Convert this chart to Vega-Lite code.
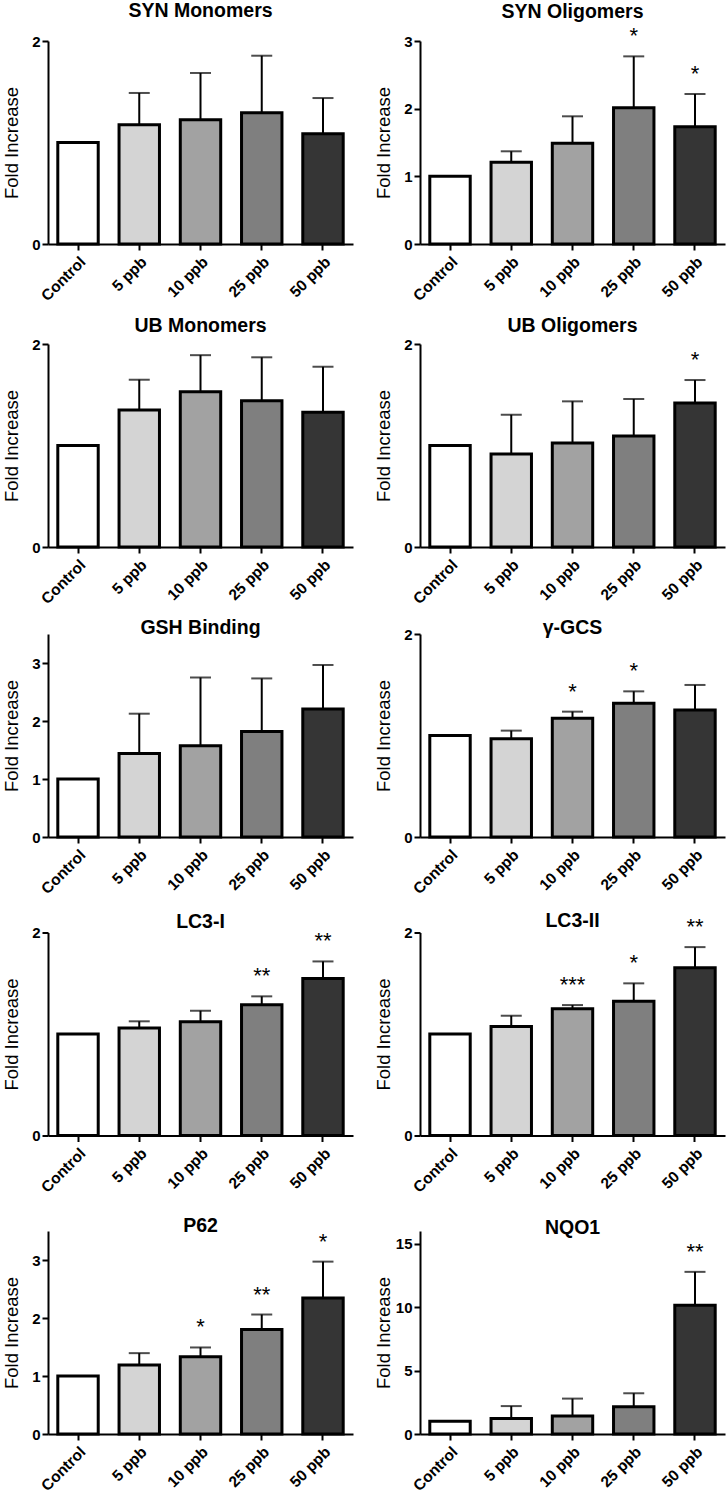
{
  "$schema": "https://vega.github.io/schema/vega-lite/v6.json",
  "background": "white",
  "padding": {"left": 2, "top": 0, "right": 2, "bottom": 2},
  "datasets": {
    "main": [
      {"panel": "SYN Monomers", "dose": "Control", "mean": 1.0, "upper": null, "sig": ""},
      {"panel": "SYN Monomers", "dose": "5 ppb", "mean": 1.175, "upper": 1.488, "sig": ""},
      {"panel": "SYN Monomers", "dose": "10 ppb", "mean": 1.225, "upper": 1.685, "sig": ""},
      {"panel": "SYN Monomers", "dose": "25 ppb", "mean": 1.294, "upper": 1.855, "sig": ""},
      {"panel": "SYN Monomers", "dose": "50 ppb", "mean": 1.087, "upper": 1.438, "sig": ""},
      {"panel": "SYN Oligomers", "dose": "Control", "mean": 1.0, "upper": null, "sig": ""},
      {"panel": "SYN Oligomers", "dose": "5 ppb", "mean": 1.207, "upper": 1.37, "sig": ""},
      {"panel": "SYN Oligomers", "dose": "10 ppb", "mean": 1.488, "upper": 1.887, "sig": ""},
      {"panel": "SYN Oligomers", "dose": "25 ppb", "mean": 2.015, "upper": 2.773, "sig": "*"},
      {"panel": "SYN Oligomers", "dose": "50 ppb", "mean": 1.734, "upper": 2.217, "sig": "*"},
      {"panel": "UB Monomers", "dose": "Control", "mean": 1.0, "upper": null, "sig": ""},
      {"panel": "UB Monomers", "dose": "5 ppb", "mean": 1.35, "upper": 1.648, "sig": ""},
      {"panel": "UB Monomers", "dose": "10 ppb", "mean": 1.53, "upper": 1.89, "sig": ""},
      {"panel": "UB Monomers", "dose": "25 ppb", "mean": 1.441, "upper": 1.869, "sig": ""},
      {"panel": "UB Monomers", "dose": "50 ppb", "mean": 1.327, "upper": 1.776, "sig": ""},
      {"panel": "UB Oligomers", "dose": "Control", "mean": 1.0, "upper": null, "sig": ""},
      {"panel": "UB Oligomers", "dose": "5 ppb", "mean": 0.916, "upper": 1.303, "sig": ""},
      {"panel": "UB Oligomers", "dose": "10 ppb", "mean": 1.025, "upper": 1.435, "sig": ""},
      {"panel": "UB Oligomers", "dose": "25 ppb", "mean": 1.094, "upper": 1.458, "sig": ""},
      {"panel": "UB Oligomers", "dose": "50 ppb", "mean": 1.419, "upper": 1.645, "sig": "*"},
      {"panel": "GSH Binding", "dose": "Control", "mean": 1.0, "upper": null, "sig": ""},
      {"panel": "GSH Binding", "dose": "5 ppb", "mean": 1.44, "upper": 2.126, "sig": ""},
      {"panel": "GSH Binding", "dose": "10 ppb", "mean": 1.574, "upper": 2.75, "sig": ""},
      {"panel": "GSH Binding", "dose": "25 ppb", "mean": 1.821, "upper": 2.734, "sig": ""},
      {"panel": "GSH Binding", "dose": "50 ppb", "mean": 2.207, "upper": 2.966, "sig": ""},
      {"panel": "γ-GCS", "dose": "Control", "mean": 1.0, "upper": null, "sig": ""},
      {"panel": "γ-GCS", "dose": "5 ppb", "mean": 0.967, "upper": 1.048, "sig": ""},
      {"panel": "γ-GCS", "dose": "10 ppb", "mean": 1.17, "upper": 1.235, "sig": "*"},
      {"panel": "γ-GCS", "dose": "25 ppb", "mean": 1.317, "upper": 1.435, "sig": "*"},
      {"panel": "γ-GCS", "dose": "50 ppb", "mean": 1.252, "upper": 1.498, "sig": ""},
      {"panel": "LC3-I", "dose": "Control", "mean": 1.0, "upper": null, "sig": ""},
      {"panel": "LC3-I", "dose": "5 ppb", "mean": 1.059, "upper": 1.125, "sig": ""},
      {"panel": "LC3-I", "dose": "10 ppb", "mean": 1.121, "upper": 1.229, "sig": ""},
      {"panel": "LC3-I", "dose": "25 ppb", "mean": 1.288, "upper": 1.371, "sig": "**"},
      {"panel": "LC3-I", "dose": "50 ppb", "mean": 1.548, "upper": 1.715, "sig": "**"},
      {"panel": "LC3-II", "dose": "Control", "mean": 1.0, "upper": null, "sig": ""},
      {"panel": "LC3-II", "dose": "5 ppb", "mean": 1.075, "upper": 1.18, "sig": ""},
      {"panel": "LC3-II", "dose": "10 ppb", "mean": 1.249, "upper": 1.285, "sig": "***"},
      {"panel": "LC3-II", "dose": "25 ppb", "mean": 1.322, "upper": 1.499, "sig": "*"},
      {"panel": "LC3-II", "dose": "50 ppb", "mean": 1.652, "upper": 1.856, "sig": "**"},
      {"panel": "P62", "dose": "Control", "mean": 1.0, "upper": null, "sig": ""},
      {"panel": "P62", "dose": "5 ppb", "mean": 1.188, "upper": 1.394, "sig": ""},
      {"panel": "P62", "dose": "10 ppb", "mean": 1.33, "upper": 1.492, "sig": "*"},
      {"panel": "P62", "dose": "25 ppb", "mean": 1.802, "upper": 2.06, "sig": "**"},
      {"panel": "P62", "dose": "50 ppb", "mean": 2.346, "upper": 2.972, "sig": "*"},
      {"panel": "NQO1", "dose": "Control", "mean": 1.0, "upper": null, "sig": ""},
      {"panel": "NQO1", "dose": "5 ppb", "mean": 1.22, "upper": 2.2, "sig": ""},
      {"panel": "NQO1", "dose": "10 ppb", "mean": 1.42, "upper": 2.79, "sig": ""},
      {"panel": "NQO1", "dose": "25 ppb", "mean": 2.15, "upper": 3.21, "sig": ""},
      {"panel": "NQO1", "dose": "50 ppb", "mean": 10.15, "upper": 12.78, "sig": "**"}
    ]
  },
  "data": {"name": "main"},
  "spacing": 10,
  "vconcat": [
    {
      "columns": 2,
      "bounds": "flush",
      "spacing": {"row": 100, "column": 67},
      "concat": [
        {
          "title": {"text": "SYN Monomers", "offset": 12.7},
          "width": 305, "height": 203,
          "transform": [{"filter": "datum.panel === 'SYN Monomers'"}],
          "encoding": {"x": {"field": "dose", "type": "nominal", "sort": ["Control", "5 ppb", "10 ppb", "25 ppb", "50 ppb"], "title": null, "scale": {"paddingInner": 0.34, "paddingOuter": 0.16}}},
          "layer": [
            {"mark": {"type": "rule"}, "encoding": {"y": {"field": "mean", "type": "quantitative", "scale": {"domain": [0, 2]}, "axis": {"values": [0, 1, 2], "format": "d", "title": "Fold Increase"}}, "y2": {"field": "upper"}}},
            {"mark": {"type": "tick", "size": 21}, "encoding": {"y": {"field": "upper", "type": "quantitative"}}},
            {"mark": {"type": "bar"}, "encoding": {"y": {"field": "mean", "type": "quantitative"}, "fill": {"field": "dose", "type": "nominal", "scale": {"domain": ["Control", "5 ppb", "10 ppb", "25 ppb", "50 ppb"], "range": ["#ffffff", "#d4d4d4", "#a2a2a2", "#7f7f7f", "#353535"]}, "legend": null}}},
            {"transform": [{"filter": "datum.sig !== ''"}], "mark": {"type": "text"}, "encoding": {"y": {"field": "upper", "type": "quantitative"}, "text": {"field": "sig"}}}
          ]
        },
        {
          "title": {"text": "SYN Oligomers", "offset": 3.2},
          "width": 305, "height": 203,
          "transform": [{"filter": "datum.panel === 'SYN Oligomers'"}],
          "encoding": {"x": {"field": "dose", "type": "nominal", "sort": ["Control", "5 ppb", "10 ppb", "25 ppb", "50 ppb"], "title": null, "scale": {"paddingInner": 0.34, "paddingOuter": 0.16}}},
          "layer": [
            {"mark": {"type": "rule"}, "encoding": {"y": {"field": "mean", "type": "quantitative", "scale": {"domain": [0, 3]}, "axis": {"values": [0, 1, 2, 3], "format": "d", "title": "Fold Increase"}}, "y2": {"field": "upper"}}},
            {"mark": {"type": "tick", "size": 21}, "encoding": {"y": {"field": "upper", "type": "quantitative"}}},
            {"mark": {"type": "bar"}, "encoding": {"y": {"field": "mean", "type": "quantitative"}, "fill": {"field": "dose", "type": "nominal", "scale": {"domain": ["Control", "5 ppb", "10 ppb", "25 ppb", "50 ppb"], "range": ["#ffffff", "#d4d4d4", "#a2a2a2", "#7f7f7f", "#353535"]}, "legend": null}}},
            {"transform": [{"filter": "datum.sig !== ''"}], "mark": {"type": "text"}, "encoding": {"y": {"field": "upper", "type": "quantitative"}, "text": {"field": "sig"}}}
          ]
        },
        {
          "title": {"text": "UB Monomers", "offset": 0.1},
          "width": 305, "height": 203,
          "transform": [{"filter": "datum.panel === 'UB Monomers'"}],
          "encoding": {"x": {"field": "dose", "type": "nominal", "sort": ["Control", "5 ppb", "10 ppb", "25 ppb", "50 ppb"], "title": null, "scale": {"paddingInner": 0.34, "paddingOuter": 0.16}}},
          "layer": [
            {"mark": {"type": "rule"}, "encoding": {"y": {"field": "mean", "type": "quantitative", "scale": {"domain": [0, 2]}, "axis": {"values": [0, 1, 2], "format": "d", "title": "Fold Increase"}}, "y2": {"field": "upper"}}},
            {"mark": {"type": "tick", "size": 21}, "encoding": {"y": {"field": "upper", "type": "quantitative"}}},
            {"mark": {"type": "bar"}, "encoding": {"y": {"field": "mean", "type": "quantitative"}, "fill": {"field": "dose", "type": "nominal", "scale": {"domain": ["Control", "5 ppb", "10 ppb", "25 ppb", "50 ppb"], "range": ["#ffffff", "#d4d4d4", "#a2a2a2", "#7f7f7f", "#353535"]}, "legend": null}}},
            {"transform": [{"filter": "datum.sig !== ''"}], "mark": {"type": "text"}, "encoding": {"y": {"field": "upper", "type": "quantitative"}, "text": {"field": "sig"}}}
          ]
        },
        {
          "title": {"text": "UB Oligomers", "offset": 0.1},
          "width": 305, "height": 203,
          "transform": [{"filter": "datum.panel === 'UB Oligomers'"}],
          "encoding": {"x": {"field": "dose", "type": "nominal", "sort": ["Control", "5 ppb", "10 ppb", "25 ppb", "50 ppb"], "title": null, "scale": {"paddingInner": 0.34, "paddingOuter": 0.16}}},
          "layer": [
            {"mark": {"type": "rule"}, "encoding": {"y": {"field": "mean", "type": "quantitative", "scale": {"domain": [0, 2]}, "axis": {"values": [0, 1, 2], "format": "d", "title": "Fold Increase"}}, "y2": {"field": "upper"}}},
            {"mark": {"type": "tick", "size": 21}, "encoding": {"y": {"field": "upper", "type": "quantitative"}}},
            {"mark": {"type": "bar"}, "encoding": {"y": {"field": "mean", "type": "quantitative"}, "fill": {"field": "dose", "type": "nominal", "scale": {"domain": ["Control", "5 ppb", "10 ppb", "25 ppb", "50 ppb"], "range": ["#ffffff", "#d4d4d4", "#a2a2a2", "#7f7f7f", "#353535"]}, "legend": null}}},
            {"transform": [{"filter": "datum.sig !== ''"}], "mark": {"type": "text"}, "encoding": {"y": {"field": "upper", "type": "quantitative"}, "text": {"field": "sig"}}}
          ]
        }
      ]
    },
    {
      "columns": 2,
      "bounds": "flush",
      "spacing": {"row": 95.5, "column": 67},
      "concat": [
        {
          "title": {"text": "GSH Binding", "offset": -4.5},
          "width": 305, "height": 203,
          "transform": [{"filter": "datum.panel === 'GSH Binding'"}],
          "encoding": {"x": {"field": "dose", "type": "nominal", "sort": ["Control", "5 ppb", "10 ppb", "25 ppb", "50 ppb"], "title": null, "scale": {"paddingInner": 0.34, "paddingOuter": 0.16}}},
          "layer": [
            {"mark": {"type": "rule"}, "encoding": {"y": {"field": "mean", "type": "quantitative", "scale": {"domain": [0, 3.5]}, "axis": {"values": [0, 1, 2, 3], "format": "d", "title": "Fold Increase"}}, "y2": {"field": "upper"}}},
            {"mark": {"type": "tick", "size": 21}, "encoding": {"y": {"field": "upper", "type": "quantitative"}}},
            {"mark": {"type": "bar"}, "encoding": {"y": {"field": "mean", "type": "quantitative"}, "fill": {"field": "dose", "type": "nominal", "scale": {"domain": ["Control", "5 ppb", "10 ppb", "25 ppb", "50 ppb"], "range": ["#ffffff", "#d4d4d4", "#a2a2a2", "#7f7f7f", "#353535"]}, "legend": null}}},
            {"transform": [{"filter": "datum.sig !== ''"}], "mark": {"type": "text"}, "encoding": {"y": {"field": "upper", "type": "quantitative"}, "text": {"field": "sig"}}}
          ]
        },
        {
          "title": {"text": "γ-GCS", "offset": -11.1},
          "width": 305, "height": 203,
          "transform": [{"filter": "datum.panel === 'γ-GCS'"}],
          "encoding": {"x": {"field": "dose", "type": "nominal", "sort": ["Control", "5 ppb", "10 ppb", "25 ppb", "50 ppb"], "title": null, "scale": {"paddingInner": 0.34, "paddingOuter": 0.16}}},
          "layer": [
            {"mark": {"type": "rule"}, "encoding": {"y": {"field": "mean", "type": "quantitative", "scale": {"domain": [0, 2]}, "axis": {"values": [0, 1, 2], "format": "d", "title": "Fold Increase"}}, "y2": {"field": "upper"}}},
            {"mark": {"type": "tick", "size": 21}, "encoding": {"y": {"field": "upper", "type": "quantitative"}}},
            {"mark": {"type": "bar"}, "encoding": {"y": {"field": "mean", "type": "quantitative"}, "fill": {"field": "dose", "type": "nominal", "scale": {"domain": ["Control", "5 ppb", "10 ppb", "25 ppb", "50 ppb"], "range": ["#ffffff", "#d4d4d4", "#a2a2a2", "#7f7f7f", "#353535"]}, "legend": null}}},
            {"transform": [{"filter": "datum.sig !== ''"}], "mark": {"type": "text"}, "encoding": {"y": {"field": "upper", "type": "quantitative"}, "text": {"field": "sig"}}}
          ]
        },
        {
          "title": {"text": "LC3-I", "offset": -7.3},
          "width": 305, "height": 203,
          "transform": [{"filter": "datum.panel === 'LC3-I'"}],
          "encoding": {"x": {"field": "dose", "type": "nominal", "sort": ["Control", "5 ppb", "10 ppb", "25 ppb", "50 ppb"], "title": null, "scale": {"paddingInner": 0.34, "paddingOuter": 0.16}}},
          "layer": [
            {"mark": {"type": "rule"}, "encoding": {"y": {"field": "mean", "type": "quantitative", "scale": {"domain": [0, 2]}, "axis": {"values": [0, 1, 2], "format": "d", "title": "Fold Increase"}}, "y2": {"field": "upper"}}},
            {"mark": {"type": "tick", "size": 21}, "encoding": {"y": {"field": "upper", "type": "quantitative"}}},
            {"mark": {"type": "bar"}, "encoding": {"y": {"field": "mean", "type": "quantitative"}, "fill": {"field": "dose", "type": "nominal", "scale": {"domain": ["Control", "5 ppb", "10 ppb", "25 ppb", "50 ppb"], "range": ["#ffffff", "#d4d4d4", "#a2a2a2", "#7f7f7f", "#353535"]}, "legend": null}}},
            {"transform": [{"filter": "datum.sig !== ''"}], "mark": {"type": "text"}, "encoding": {"y": {"field": "upper", "type": "quantitative"}, "text": {"field": "sig"}}}
          ]
        },
        {
          "title": {"text": "LC3-II", "offset": -15.8},
          "width": 305, "height": 203,
          "transform": [{"filter": "datum.panel === 'LC3-II'"}],
          "encoding": {"x": {"field": "dose", "type": "nominal", "sort": ["Control", "5 ppb", "10 ppb", "25 ppb", "50 ppb"], "title": null, "scale": {"paddingInner": 0.34, "paddingOuter": 0.16}}},
          "layer": [
            {"mark": {"type": "rule"}, "encoding": {"y": {"field": "mean", "type": "quantitative", "scale": {"domain": [0, 2]}, "axis": {"values": [0, 1, 2], "format": "d", "title": "Fold Increase"}}, "y2": {"field": "upper"}}},
            {"mark": {"type": "tick", "size": 21}, "encoding": {"y": {"field": "upper", "type": "quantitative"}}},
            {"mark": {"type": "bar"}, "encoding": {"y": {"field": "mean", "type": "quantitative"}, "fill": {"field": "dose", "type": "nominal", "scale": {"domain": ["Control", "5 ppb", "10 ppb", "25 ppb", "50 ppb"], "range": ["#ffffff", "#d4d4d4", "#a2a2a2", "#7f7f7f", "#353535"]}, "legend": null}}},
            {"transform": [{"filter": "datum.sig !== ''"}], "mark": {"type": "text"}, "encoding": {"y": {"field": "upper", "type": "quantitative"}, "text": {"field": "sig"}}}
          ]
        },
        {
          "title": {"text": "P62", "offset": -5.5},
          "width": 305, "height": 203,
          "transform": [{"filter": "datum.panel === 'P62'"}],
          "encoding": {"x": {"field": "dose", "type": "nominal", "sort": ["Control", "5 ppb", "10 ppb", "25 ppb", "50 ppb"], "title": null, "scale": {"paddingInner": 0.34, "paddingOuter": 0.16}}},
          "layer": [
            {"mark": {"type": "rule"}, "encoding": {"y": {"field": "mean", "type": "quantitative", "scale": {"domain": [0, 3.5]}, "axis": {"values": [0, 1, 2, 3], "format": "d", "title": "Fold Increase"}}, "y2": {"field": "upper"}}},
            {"mark": {"type": "tick", "size": 21}, "encoding": {"y": {"field": "upper", "type": "quantitative"}}},
            {"mark": {"type": "bar"}, "encoding": {"y": {"field": "mean", "type": "quantitative"}, "fill": {"field": "dose", "type": "nominal", "scale": {"domain": ["Control", "5 ppb", "10 ppb", "25 ppb", "50 ppb"], "range": ["#ffffff", "#d4d4d4", "#a2a2a2", "#7f7f7f", "#353535"]}, "legend": null}}},
            {"transform": [{"filter": "datum.sig !== ''"}], "mark": {"type": "text"}, "encoding": {"y": {"field": "upper", "type": "quantitative"}, "text": {"field": "sig"}}}
          ]
        },
        {
          "title": {"text": "NQO1", "offset": -7.5},
          "width": 305, "height": 203,
          "transform": [{"filter": "datum.panel === 'NQO1'"}],
          "encoding": {"x": {"field": "dose", "type": "nominal", "sort": ["Control", "5 ppb", "10 ppb", "25 ppb", "50 ppb"], "title": null, "scale": {"paddingInner": 0.34, "paddingOuter": 0.16}}},
          "layer": [
            {"mark": {"type": "rule"}, "encoding": {"y": {"field": "mean", "type": "quantitative", "scale": {"domain": [0, 15]}, "axis": {"values": [0, 5, 10, 15], "format": "d", "title": "Fold Increase"}}, "y2": {"field": "upper"}}},
            {"mark": {"type": "tick", "size": 21}, "encoding": {"y": {"field": "upper", "type": "quantitative"}}},
            {"mark": {"type": "bar"}, "encoding": {"y": {"field": "mean", "type": "quantitative"}, "fill": {"field": "dose", "type": "nominal", "scale": {"domain": ["Control", "5 ppb", "10 ppb", "25 ppb", "50 ppb"], "range": ["#ffffff", "#d4d4d4", "#a2a2a2", "#7f7f7f", "#353535"]}, "legend": null}}},
            {"transform": [{"filter": "datum.sig !== ''"}], "mark": {"type": "text"}, "encoding": {"y": {"field": "upper", "type": "quantitative"}, "text": {"field": "sig"}}}
          ]
        }
      ]
    }
  ],
  "config": {
    "view": {"stroke": null},
    "font": "Liberation Sans",
    "title": {"font": "Liberation Sans", "fontSize": 19.5, "fontWeight": "bold", "color": "black", "anchor": "middle", "frame": "group", "baseline": "alphabetic"},
    "axis": {"domainColor": "black", "domainWidth": 2, "tickColor": "black", "tickWidth": 2, "tickSize": 6, "labelColor": "black", "labelFont": "Liberation Sans", "labelFontWeight": "bold", "labelFontSize": 15, "titleFont": "Liberation Sans", "titleFontWeight": "normal", "titleFontSize": 18.5, "titleColor": "black", "grid": false, "labelPadding": 2},
    "axisY": {"titleX": -27},
    "axisX": {"labelAngle": -45, "labelPadding": 4, "labelFontSize": 15.5},
    "bar": {"stroke": "black", "strokeWidth": 3},
    "rule": {"color": "black", "strokeWidth": 2},
    "tick": {"color": "black", "thickness": 2},
    "text": {"fontSize": 22, "dy": -13, "baseline": "alphabetic", "color": "black", "font": "Liberation Sans"}
  }
}
